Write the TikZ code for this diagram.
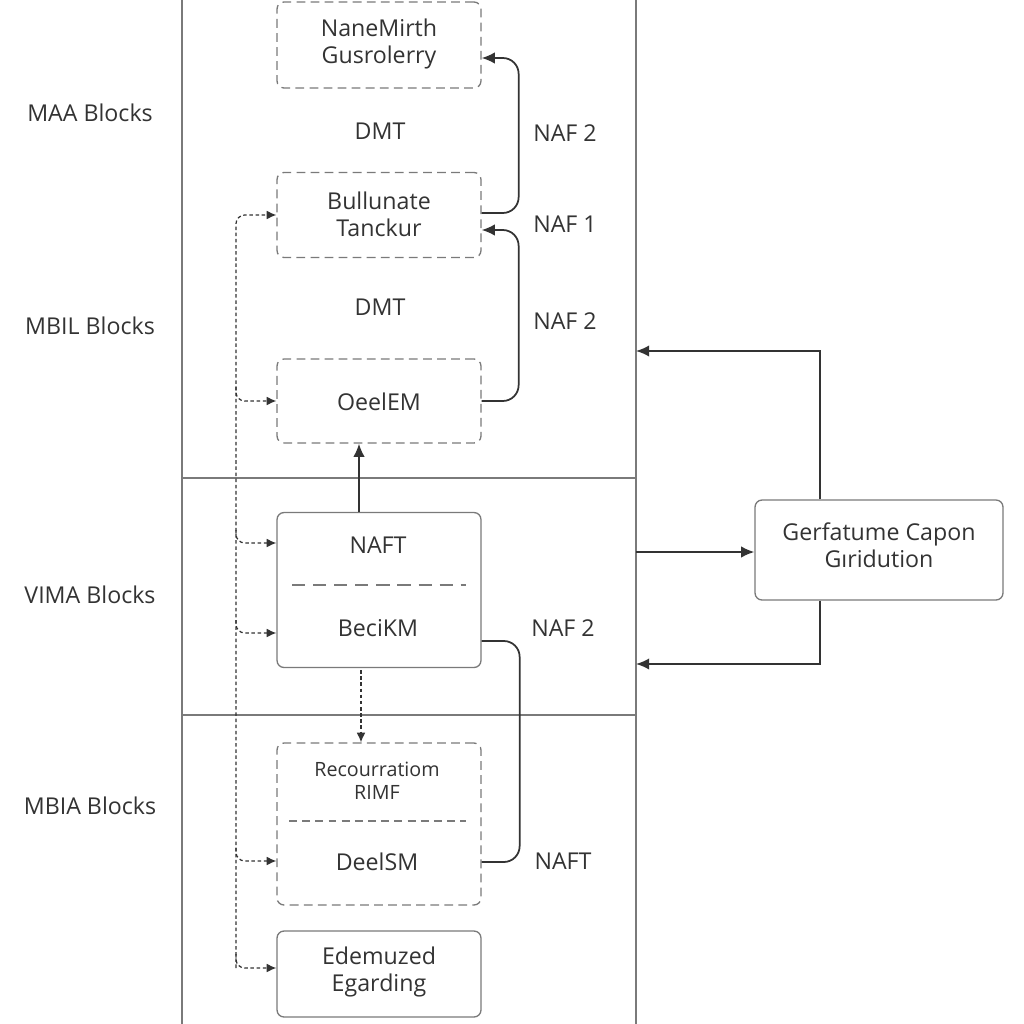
\documentclass[tikz,border=0pt]{standalone}
\usepackage{fontspec}
\setmainfont{Open Sans}
\usepackage{xcolor}
\usepackage{tikz}
\usetikzlibrary{arrows.meta}
\usetikzlibrary{calc}
\definecolor{ink}{HTML}{333333}
\definecolor{rule}{HTML}{7A7A7A}

\begin{document}
\begin{tikzpicture}[x=0.02cm, y=-0.02cm,
  txt/.style={text=ink, font=\fontsize{13.2}{15.5}\selectfont, align=center, inner sep=0pt},
  small/.style={text=ink, font=\fontsize{11.2}{13}\selectfont, align=center, inner sep=0pt},
  blk/.style={draw=rule, line width=0.75pt, rounded corners=4pt, minimum width=4.08cm, inner sep=0pt},
  dblk/.style={blk, dash pattern=on 5pt off 3pt},
  frame/.style={draw=rule, line width=0.8pt},
  conn/.style={draw=ink, line width=1pt, rounded corners=9pt},
  tip/.style={-{Latex[length=7.5pt,width=6.5pt]}},
  bus/.style={draw=ink, line width=0.7pt, dash pattern=on 2pt off 1.5pt, rounded corners=5pt, -{Latex[length=5.5pt,width=5pt]}}]
\useasboundingbox (0,0) rectangle (1024,1024);
\fill[white] (0,0) rectangle (1024,1024);
% lanes
\draw[frame] (182,0) -- (182,1024);
\draw[frame] (636,0) -- (636,1024);
\draw[frame] (182,478) -- (636,478);
\draw[frame] (182,715) -- (636,715);
\node[txt] (maa) at (90,113) {MAA Blocks};
\node[txt] (mbil) at (90,326) {MBIL Blocks};
\node[txt] (vima) at (90,595) {VIMA Blocks};
\node[txt] (mbia) at (90,806) {MBIA Blocks};
% blocks
\node[dblk, minimum height=1.72cm] (b1) at (379,45) {};
\node[txt] (b1t) at (379,44) {NaneMirth\\Gusrolerry};
\node[dblk, minimum height=1.70cm] (b2) at (379,215) {};
\node[txt] (b2t) at (379,214) {Bullunate\\Tanckur};
\node[dblk, minimum height=1.68cm] (b3) at (379,401) {};
\node[txt] (b3t) at (379,402) {OeelEM};
\node[blk, minimum height=3.10cm] (b4) at (379,590) {};
\node[txt] (b4a) at (378,545) {NAFT};
\node[txt] (b4b) at (378,628) {BeciKM};
\draw[draw=rule, line width=0.7pt, dash pattern=on 7.5pt off 4.5pt] (292,585) -- (466,585);
\node[dblk, minimum height=3.24cm] (b5) at (379,824) {};
\node[small] (b5a) at (377,781) {Recourratiom\\RIMF};
\node[txt] (b5b) at (377,862) {DeelSM};
\draw[draw=rule, line width=0.7pt, dash pattern=on 4.5pt off 3pt] (289,821) -- (466,821);
\node[blk, minimum height=1.72cm] (b6) at (379,974) {};
\node[txt] (b6t) at (379,972) {Edemuzed\\Egarding};
\node[blk, minimum width=4.96cm, minimum height=2.0cm] (gc) at (879,550) {};
\node[txt] (gct) at (879,545) {Gerfatume Capon\\Gıridution};
% labels
\node[txt] (dmt1) at (380,131) {DMT};
\node[txt] (dmt2) at (380,307) {DMT};
\node[txt] (naf1) at (565,133) {NAF 2};
\node[txt] (naf2) at (565,224) {NAF 1};
\node[txt] (naf3) at (565,321) {NAF 2};
\node[txt] (naf4) at (563,628) {NAF 2};
\node[txt] (naf5) at (563,861) {NAFT};
% links
\draw[conn, tip] ($(b2.east)+(0,-2)$) -- ++(37,0) |- ($(b1.east)+(0,13)$);
\draw[conn, tip] (b3.east) -- ++(37,0) |- ($(b2.east)+(0,15)$);
\draw[conn, tip] ($(b4.north)+(-20,0)$) -- ($(b3.south)+(-20,0)$);
\draw[conn] ($(b4.east)+(0,51)$) -- ++(38,0) |- ($(b5.east)+(0,38)$);
\draw[bus] ($(b4.south)+(-18,2)$) -- ($(b5.north)+(-18,0)$);
\coordinate (bus) at (236,0);
\draw[bus] ($(bus |- b6.west)+(0,-6)$) -- ($(bus |- b2.west)+(0,0)$) -- (b2.west);
\draw[bus] ($(bus |- b3.west)+(0,-14)$) |- (b3.west);
\draw[bus] ($(bus |- b4.west)+(0,-60)$) |- ($(b4.west)+(0,-47)$);
\draw[bus] ($(bus |- b4.west)+(0,30)$) |- ($(b4.west)+(0,43)$);
\draw[bus] ($(bus |- b5.west)+(0,24)$) |- ($(b5.west)+(0,37)$);
\draw[bus] ($(bus |- b6.west)+(0,-20)$) |- ($(b6.west)+(0,-6)$);
\coordinate (f1) at (636,351);
\coordinate (f2) at (636,552);
\coordinate (f3) at (636,664);
\draw[conn, rounded corners=0pt, tip] ($(gc.north)+(-59,0)$) |- (f1);
\draw[conn, tip] (f2) -- ($(gc.west)+(0,2)$);
\draw[conn, rounded corners=0pt, tip] ($(gc.south)+(-59,0)$) |- (f3);
\end{tikzpicture}
\end{document}
